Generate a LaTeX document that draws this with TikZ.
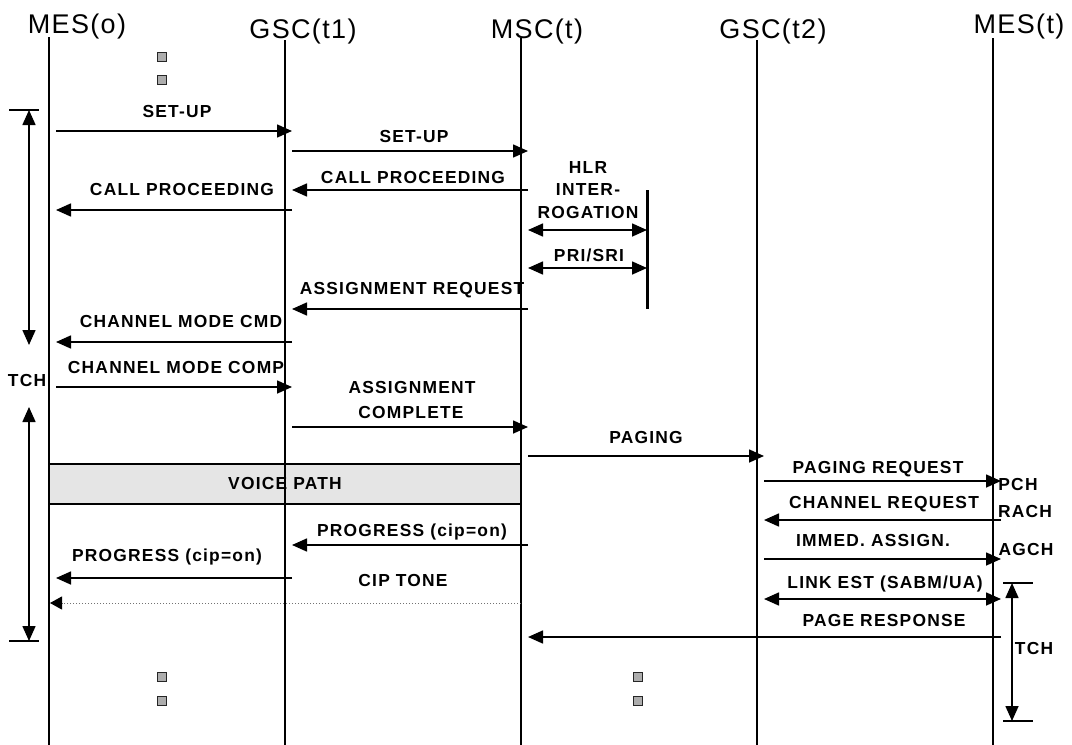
\documentclass[tikz,border=0pt]{standalone}
\usepackage{fontspec}
\setmainfont{Liberation Sans}
\newfontfamily\hdfont[LetterSpace=5]{Liberation Sans}
\newfontfamily\lbfont[LetterSpace=7]{Liberation Sans}
\usetikzlibrary{arrows.meta}
\tikzset{
 life/.style={line width=1.4pt},
 head/.style={font=\hdfont\fontsize{27}{30}\selectfont, anchor=base, inner sep=0pt},
 lab/.style={font=\lbfont\bfseries\fontsize{17.4}{20}\selectfont, anchor=base, inner sep=0pt},
 tipA/.tip={Triangle[length=15pt,width=13pt]},
 msg/.style={line width=1.6pt, -tipA},
 dmsg/.style={line width=1.6pt, tipA-tipA},
 bar/.style={line width=1.3pt},
 sq/.style={draw=black!85, fill=black!32, line width=1pt, minimum size=9pt, inner sep=0pt},
 voice/.style={draw, line width=1.4pt, fill=black!10},
 cip/.style={dotted, line width=1pt, draw=black!55, -{Triangle[length=12pt,width=13pt,color=black]}},
}
\begin{document}
\begin{tikzpicture}[x=1pt,y=-1pt]
\useasboundingbox (0,0) rectangle (1072,745);
% headers
\node[head] (hMO) at (77,33) {MES(o)};
\node[head] (hG1) at (303,38) {GSC(t1)};
\node[head] (hMS) at (537,38) {MSC(t)};
\node[head] (hG2) at (773,38) {GSC(t2)};
\node[head] (hME) at (1019,33) {MES(t)};
% lifelines
\coordinate (MO) at (49,37);  \coordinate (MOb) at (49,745);
\coordinate (G1) at (285,40); \coordinate (G1b) at (285,745);
\coordinate (MS) at (521,38); \coordinate (MSb) at (521,745);
\coordinate (G2) at (757,40); \coordinate (G2b) at (757,745);
\coordinate (ME) at (993,38); \coordinate (MEb) at (993,745);
% voice path box (behind lifelines)
\node[voice, minimum width=472pt, minimum height=40pt, inner sep=0pt] (vp) at (285,484) {};
\node[lab] (vpl) at (285,489) {VOICE PATH};
\draw[life] (MO) -- (MOb);
\draw[life] (G1) -- (G1b);
\draw[life] (MS) -- (MSb);
\draw[life] (G2) -- (G2b);
\draw[life] (ME) -- (MEb);
% arrow anchor columns
\coordinate (aMO) at (56,0);
\coordinate (aG1) at (292,0);
\coordinate (aMS) at (528,0);
\coordinate (aG2) at (764,0);
\coordinate (aME) at (1001,0);
\coordinate (hlr) at (647,0);
% squares
\node[sq] (s1) at (162,57) {};
\node[sq] (s2) at (162,80) {};
\node[sq] (s3) at (162,677) {};
\node[sq] (s4) at (162,701) {};
\node[sq] (s5) at (638,677) {};
\node[sq] (s6) at (638,701) {};
% messages
\node[lab] (l1) at (177,117) {SET-UP};
\draw[msg] (aMO|-0,131) -- (aG1|-0,131);
\node[lab] (l2) at (414,142) {SET-UP};
\draw[msg] (aG1|-0,151) -- (aMS|-0,151);
\node[lab] (l3) at (413,183) {CALL PROCEEDING};
\draw[msg] (aMS|-0,190) -- (aG1|-0,190);
\node[lab] (l4) at (182,195) {CALL PROCEEDING};
\draw[msg] (aG1|-0,210) -- (aMO|-0,210);
\node[lab] (l5a) at (588,173) {HLR};
\node[lab] (l5b) at (588,195) {INTER-};
\node[lab] (l5c) at (588,218) {ROGATION};
\draw[line width=3pt] (hlr|-0,190) -- (hlr|-0,309);
\draw[dmsg] (aMS|-0,230) -- (hlr|-0,230);
\node[lab] (l6) at (589,261) {PRI/SRI};
\draw[dmsg] (aMS|-0,268) -- (hlr|-0,268);
\node[lab] (l7) at (412,294) {ASSIGNMENT REQUEST};
\draw[msg] (aMS|-0,309) -- (aG1|-0,309);
\node[lab] (l8) at (181,327) {CHANNEL MODE CMD};
\draw[msg] (aG1|-0,342) -- (aMO|-0,342);
\node[lab] (l9) at (176,373) {CHANNEL MODE COMP};
\draw[msg] (aMO|-0,387) -- (aG1|-0,387);
\node[lab] (l10a) at (412,393) {ASSIGNMENT};
\node[lab] (l10b) at (411,418) {COMPLETE};
\draw[msg] (aG1|-0,427) -- (aMS|-0,427);
\node[lab] (l11) at (646,443) {PAGING};
\draw[msg] (aMS|-0,456) -- (aG2|-0,456);
\node[lab] (l12) at (878,473) {PAGING REQUEST};
\draw[msg] (aG2|-0,481) -- (aME|-0,481);
\node[lab] (pch) at (1018,490) {PCH};
\node[lab] (l13) at (884,508) {CHANNEL REQUEST};
\draw[msg] (aME|-0,520) -- (aG2|-0,520);
\node[lab] (rach) at (1025,517) {RACH};
\node[lab] (l14) at (412,536) {PROGRESS (cip=on)};
\draw[msg] (aMS|-0,545) -- (aG1|-0,545);
\node[lab] (l15) at (873,546) {IMMED. ASSIGN.};
\draw[msg] (aG2|-0,559) -- (aME|-0,559);
\node[lab] (agch) at (1026,555) {AGCH};
\node[lab] (l16) at (167,561) {PROGRESS (cip=on)};
\draw[msg] (aG1|-0,578) -- (aMO|-0,578);
\node[lab] (l17) at (885,588) {LINK EST (SABM/UA)};
\draw[dmsg] (aG2|-0,599) -- (aME|-0,599);
\node[lab] (l18) at (403,586) {CIP TONE};
\coordinate (cipE) at (50,603);
\draw[cip] (MS|-0,603) -- (cipE);
\node[lab] (l19) at (884,626) {PAGE RESPONSE};
\draw[msg] (aME|-0,637) -- (aMS|-0,637);
% left TCH bracket
\coordinate (tl1) at (9,110); \coordinate (tl2) at (39,110);
\coordinate (bl1) at (9,641); \coordinate (bl2) at (39,641);
\draw[bar] (tl1) -- (tl2);
\draw[bar] (bl1) -- (bl2);
\coordinate (ta) at (29,110); \coordinate (tb) at (29,345);
\coordinate (tc) at (29,407); \coordinate (td) at (29,641);
\draw[dmsg] (ta) -- (tb);
\draw[dmsg] (tc) -- (td);
\node[lab] (tchl) at (27,386) {TCH};
% right TCH bracket
\coordinate (tr1) at (1003,583); \coordinate (tr2) at (1033,583);
\coordinate (br1) at (1003,721); \coordinate (br2) at (1033,721);
\draw[bar] (tr1) -- (tr2);
\draw[bar] (br1) -- (br2);
\coordinate (ra) at (1012,583); \coordinate (rb) at (1012,721);
\draw[dmsg] (ra) -- (rb);
\node[lab] (tchr) at (1034,654) {TCH};
\end{tikzpicture}
\end{document}
